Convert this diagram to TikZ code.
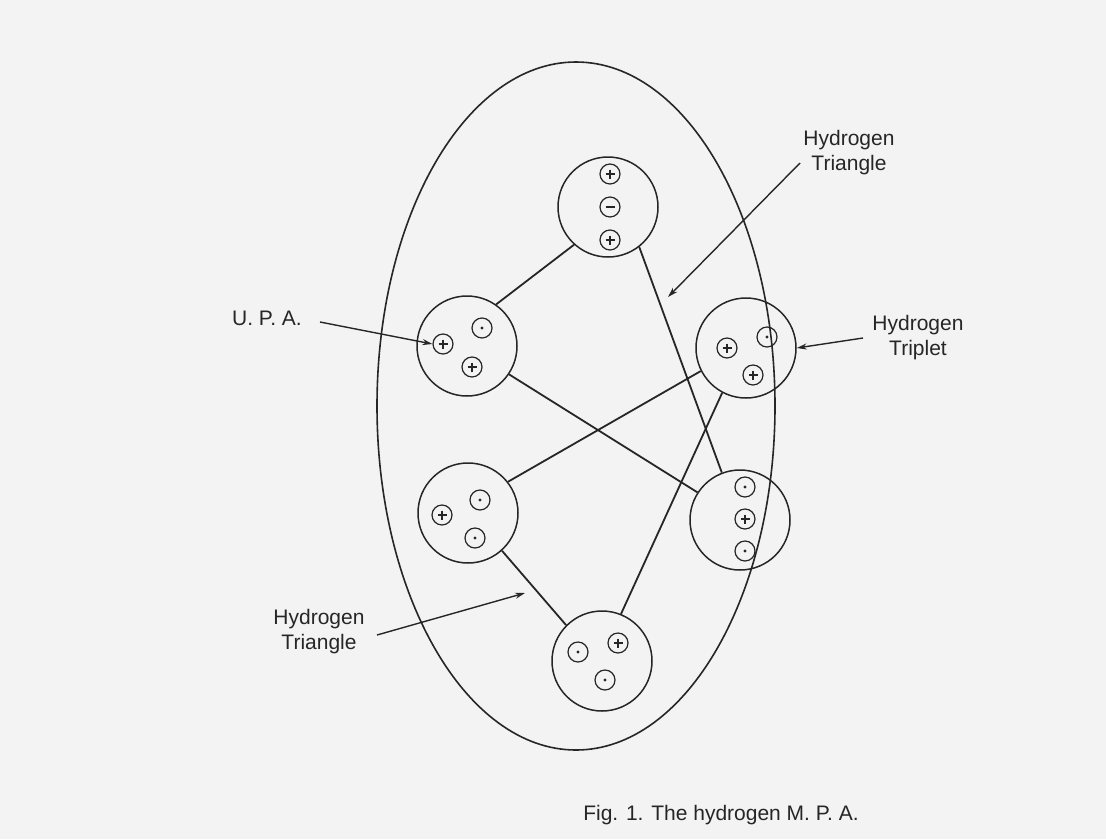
\documentclass[tikz,border=0pt]{standalone}
\usepackage{fontspec}
\setmainfont{Liberation Sans}
\usetikzlibrary{arrows.meta,shapes.geometric}
\definecolor{ink}{HTML}{262626}
\definecolor{paper}{HTML}{F3F3F3}
\tikzset{
  cell/.style={circle, draw=ink, line width=1.5pt, minimum size=100pt, inner sep=0pt},
  charge/.style={circle, draw=ink, line width=1.2pt, minimum size=20pt, inner sep=0pt},
  bond/.style={draw=ink, line width=1.8pt},
  pointer/.style={draw=ink, line width=1.4pt, -{Stealth[length=10pt,width=6pt]}},
  label/.style={font=\fontsize{21}{25}\selectfont, text=ink, align=center, inner sep=0pt},
  plus/.pic={\draw[ink, line width=1.1pt] (-4.5,0) -- (4.5,0) (0,-4.5) -- (0,4.5);},
  minus/.pic={\draw[ink, line width=1.1pt] (-4.5,0) -- (4.5,0);},
  dot/.pic={\fill[ink] (0,0) circle (1.7);}
}
\begin{document}
\begin{tikzpicture}[x=1pt, y=-1pt]
\fill[paper] (0,0) rectangle (1106,839);
\useasboundingbox (0,0) rectangle (1106,839);

% enclosing ellipse
\node[ellipse, draw=ink, line width=1.6pt, minimum width=398pt, minimum height=688pt, inner sep=0pt] (mpa) at (576,406) {};

% the six groups
\node[cell] (top)   at (608,207) {};
\node[cell] (upa)   at (467,346) {};
\node[cell] (trip)  at (746,348) {};
\node[cell] (ll)    at (468,513) {};
\node[cell] (lr)    at (740,520) {};
\node[cell] (bot)   at (602,661) {};

% charges inside the groups
\node[charge] (t1) at (610,174) {}; \pic at (t1) {plus};
\node[charge] (t2) at (610,207) {}; \pic at (t2) {minus};
\node[charge] (t3) at (610,240) {}; \pic at (t3) {plus};

\node[charge] (u1) at (443,344) {}; \pic at (u1) {plus};
\node[charge] (u2) at (482,328) {}; \pic at (u2) {dot};
\node[charge] (u3) at (472,367) {}; \pic at (u3) {plus};

\node[charge] (r1) at (727,348) {}; \pic at (r1) {plus};
\node[charge] (r2) at (767,337) {}; \pic at (r2) {dot};
\node[charge] (r3) at (753,375) {}; \pic at (r3) {plus};

\node[charge] (l1) at (442,515) {}; \pic at (l1) {plus};
\node[charge] (l2) at (480,500) {}; \pic at (l2) {dot};
\node[charge] (l3) at (475,538) {}; \pic at (l3) {dot};

\node[charge] (w1) at (745,487) {}; \pic at (w1) {dot};
\node[charge] (w2) at (745,519) {}; \pic at (w2) {plus};
\node[charge] (w3) at (745,551) {}; \pic at (w3) {dot};

\node[charge] (b1) at (578,652) {}; \pic at (b1) {dot};
\node[charge] (b2) at (618,643) {}; \pic at (b2) {plus};
\node[charge] (b3) at (605,680) {}; \pic at (b3) {dot};

% bonds between groups
\draw[bond] (top.228) -- (upa.55);
\draw[bond] (top.308) -- (lr.111);
\draw[bond] (upa.326) -- (lr.147);
\draw[bond] (ll.38)   -- (trip.207);
\draw[bond] (trip.242) -- (bot.68);
\draw[bond] (ll.312)  -- (bot.135);

% labels
\node[label] (lTriA) at (849,153) {Hydrogen\\Triangle};
\node[label] (lTrip) at (918,338) {Hydrogen\\Triplet};
\node[label] (lUPA)  at (267,318) {U. P. A.};
\node[label] (lTriB) at (319,632) {Hydrogen\\Triangle};

\coordinate (pA) at (668,297);
\coordinate (pB) at (525,593);
\draw[pointer] (800,163) -- (pA);
\draw[pointer] (863,338) -- (trip.east);
\draw[pointer] (320,322) -- (u1.west);
\draw[pointer] (377,635) -- (pB);

% caption
\node[label] (cap) at (721,815) {Fig. 1. The hydrogen M. P. A.};
\end{tikzpicture}
\end{document}
